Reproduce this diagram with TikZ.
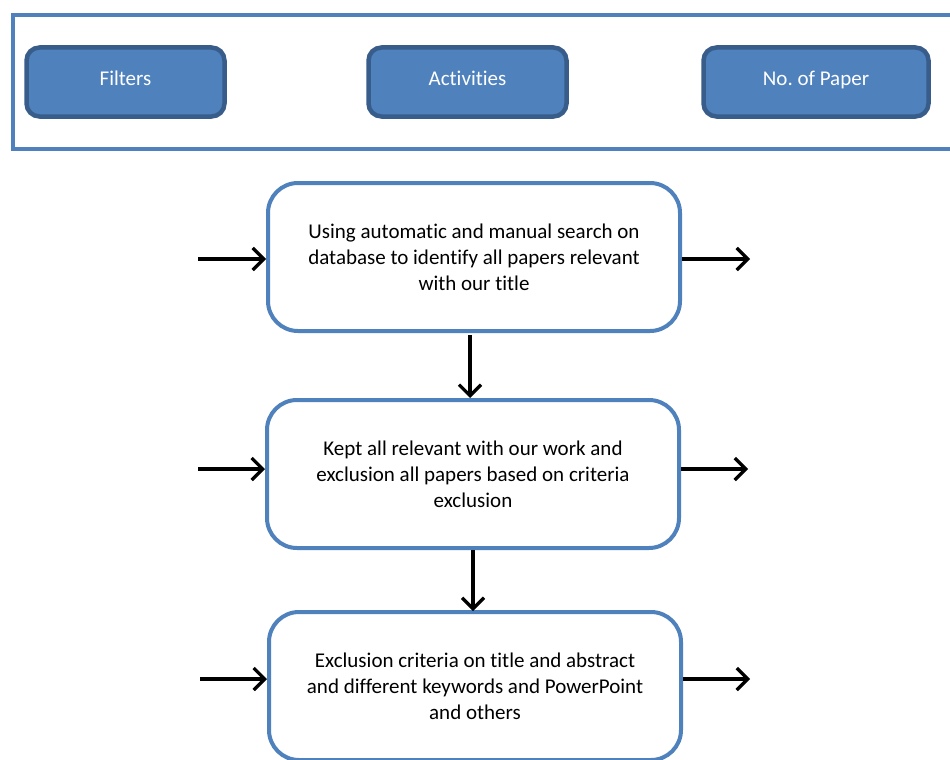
\documentclass[tikz,border=0pt]{standalone}
\usepackage{fontspec}
\setmainfont{Carlito}[Ligatures={NoCommon}]
\usetikzlibrary{arrows.meta}
\definecolor{frameblue}{HTML}{4F81BD}
\definecolor{darkblue}{HTML}{385D8A}
\tikzset{
  hdrbox/.style={draw=darkblue, line width=4.5pt, fill=frameblue, rounded corners=13pt,
    minimum width=198pt, minimum height=69pt, text=white, font=\fontsize{21}{25}\selectfont,
    text height=0.62em, text depth=0pt},
  stepbox/.style={draw=frameblue, line width=4pt, fill=white, rounded corners=30pt,
    minimum width=412pt, minimum height=148pt, align=center,
    font=\fontsize{21}{26}\selectfont, text=black},
  arr/.style={line width=3.2pt, -{Straight Barb[length=11pt,width=22pt,line width=3.2pt]}}
}
\begin{document}
\frenchspacing
\begin{tikzpicture}[x=1pt,y=-1pt]
\useasboundingbox (0,0) rectangle (950,760);
\clip (0,0) rectangle (950,760);
\fill[white] (0,0) rectangle (950,760);
% header frame
\node[draw=frameblue, line width=4pt, minimum width=960pt, minimum height=134pt, anchor=north west, inner sep=0pt] (frame) at (11,13) {};
\node[hdrbox] (filters) at (125.5,82) {Filters};
\node[hdrbox] (activities) at (467.5,82) {Activities};
\node[hdrbox, minimum width=225pt] (nopaper) at (816,82) {No. of Paper};
% steps
\node[stepbox] (b1) at (474,257) {Using automatic and manual search on\\database to identify all papers relevant\\with our title};
\node[stepbox] (b2) at (473,474) {Kept all relevant with our work and\\exclusion all papers based on criteria\\exclusion};
\node[stepbox] (b3) at (475,686) {Exclusion criteria on title and abstract\\and different keywords and PowerPoint\\and others};
% free ends
\coordinate (in1) at (198,259);
\coordinate (out1) at (750,259);
\coordinate (in2) at (198,469);
\coordinate (out2) at (748,469);
\coordinate (in3) at (200,679);
\coordinate (out3) at (750,679);
\coordinate (d1) at (470,0);
\coordinate (d2) at (473,0);
% connectors
\draw[arr] (in1) -- (in1 -| b1.west);
\draw[arr] (out1 -| b1.east) -- (out1);
\draw[arr] (in2) -- (in2 -| b2.west);
\draw[arr] (out2 -| b2.east) -- (out2);
\draw[arr] (in3) -- (in3 -| b3.west);
\draw[arr] (out3 -| b3.east) -- (out3);
\draw[arr] ([yshift=-2pt]b1.south -| d1) -- (b2.north -| d1);
\draw[arr] (b2.south -| d2) -- ([yshift=-1pt]b3.north -| d2);
\end{tikzpicture}
\end{document}
